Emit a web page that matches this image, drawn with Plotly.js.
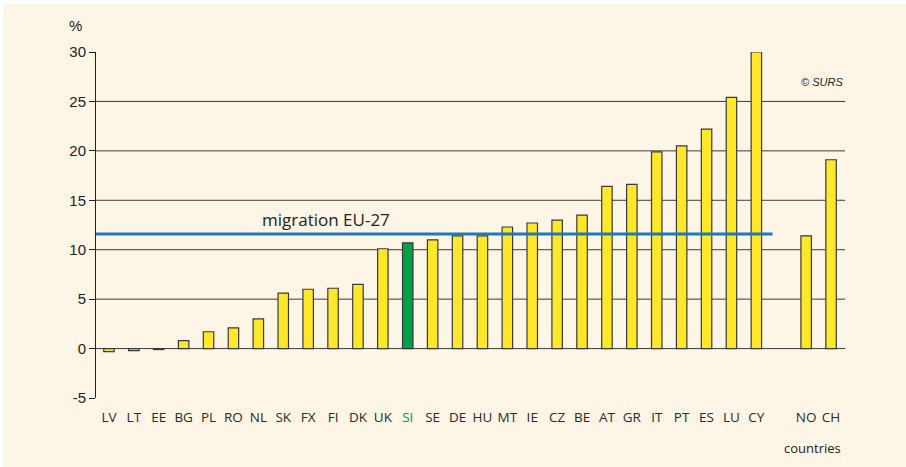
<!DOCTYPE html>
<html>
<head>
<meta charset="utf-8">
<script src="https://cdn.plot.ly/plotly-3.0.1.min.js"></script>
<style>
  html, body { margin: 0; padding: 0; background: #ffffff; }
  #chart { position: absolute; left: 3px; top: 4px; width: 903px; height: 463px; }
</style>
</head>
<body>
<div id="chart"></div>
<script>
// EU-27 countries (sorted) and values, %
const euCountries = ["LV","LT","EE","BG","PL","RO","NL","SK","FX","FI","DK","UK","SI","SE","DE","HU","MT","IE","CZ","BE","AT","GR","IT","PT","ES","LU","CY"];
const euValues    = [-0.3,-0.2,-0.1,0.8,1.7,2.1,3.0,5.6,6.0,6.1,6.5,10.1,10.7,11.0,11.4,11.4,12.3,12.7,13.0,13.5,16.4,16.6,19.9,20.5,22.2,25.4,30.0];
// Non-EU countries
const otherCountries = ["NO","CH"];
const otherValues    = [11.4,19.1];
// EU-27 average
const eu27Migration = 11.6;
const highlight = "SI";
const yTicks = [-5,0,5,10,15,20,25,30];
const yTickLabels = ["-5","0","5","10","15","20","25","30"];
const gridValues = [0,5,10,15,20,25];

const yellow = "#ffe829", green = "#00a04b", edge = "#3a3a3a";

// positions: EU countries 0..26, one empty slot, then others
const allCountries = euCountries.concat(otherCountries);
const allValues = euValues.concat(otherValues);
const xPos = allCountries.map((c, i) => i < euCountries.length ? i : i + 1);
const colors = allCountries.map(c => c === highlight ? green : yellow);
const tickText = allCountries.map(c => c === highlight ? '<span style="color:#00a04b">' + c + '</span>' : c);

const xRange = [-0.52, xPos[xPos.length - 1] + 0.56];

const shapes = gridValues.map(v => ({
  type: "line", xref: "paper", yref: "y", x0: 0, x1: 1, y0: v, y1: v,
  line: { color: "#3c3c3c", width: 1 }, layer: "below"
}));
shapes.push({
  type: "line", xref: "x", yref: "y", x0: xRange[0], x1: euCountries.length - 0.35,
  y0: eu27Migration, y1: eu27Migration,
  line: { color: "#1f78be", width: 3 }, layer: "above"
});

const trace = {
  type: "bar",
  x: xPos,
  y: allValues,
  width: 0.42,
  marker: { color: colors, line: { color: edge, width: 1.2 } },
  hoverinfo: "x+y"
};

const layout = {
  width: 903, height: 463,
  margin: { l: 93, r: 61, t: 48, b: 69 },
  paper_bgcolor: "#fdf5e6",
  plot_bgcolor: "rgba(0,0,0,0)",
  showlegend: false,
  font: { family: "Liberation Sans, Arial, sans-serif", color: "#222" },
  xaxis: {
    range: xRange,
    tickmode: "array",
    tickvals: xPos,
    ticktext: tickText,
    showgrid: false, zeroline: false, showline: false,
    ticks: "",
    ticklabelstandoff: 9,
    tickfont: { family: "Open Sans, DejaVu Sans, sans-serif", size: 13.5, color: "#2a2a2a" },
    fixedrange: true
  },
  yaxis: {
    range: [-5, 30],
    tickmode: "array",
    tickvals: yTicks,
    ticktext: yTickLabels,
    showgrid: false, zeroline: false,
    showline: true, linecolor: "#222", linewidth: 1,
    ticks: "outside", ticklen: 6, tickcolor: "#222", tickwidth: 1,
    tickfont: { family: "Liberation Sans, Arial, sans-serif", size: 15, color: "#222" },
    fixedrange: true
  },
  shapes: shapes,
  annotations: [
    { xref: "x", yref: "y", x: 8.7, y: eu27Migration, yshift: 1, xanchor: "center", yanchor: "bottom",
      text: "migration EU-27", showarrow: false,
      font: { family: "Open Sans, DejaVu Sans, sans-serif", size: 17, color: "#222" } },
    { xref: "paper", yref: "y", x: 1, y: 27, xanchor: "right", yanchor: "middle",
      text: "<i>© SURS</i>", showarrow: false,
      font: { family: "Liberation Sans, Arial, sans-serif", size: 11, color: "#222" } },
    { xref: "paper", yref: "paper", x: 0, y: 1, xshift: -21, yshift: 27, xanchor: "center", yanchor: "middle",
      text: "%", showarrow: false,
      font: { family: "Liberation Sans, Arial, sans-serif", size: 15, color: "#222" } },
    { xref: "paper", yref: "paper", x: 1, y: 0, xshift: -2, yshift: -50, xanchor: "right", yanchor: "middle",
      text: "countries", showarrow: false,
      font: { family: "Open Sans, DejaVu Sans, sans-serif", size: 13, color: "#222" } }
  ]
};

Plotly.newPlot("chart", [trace], layout, { displayModeBar: false, staticPlot: true });
</script>
</body>
</html>
